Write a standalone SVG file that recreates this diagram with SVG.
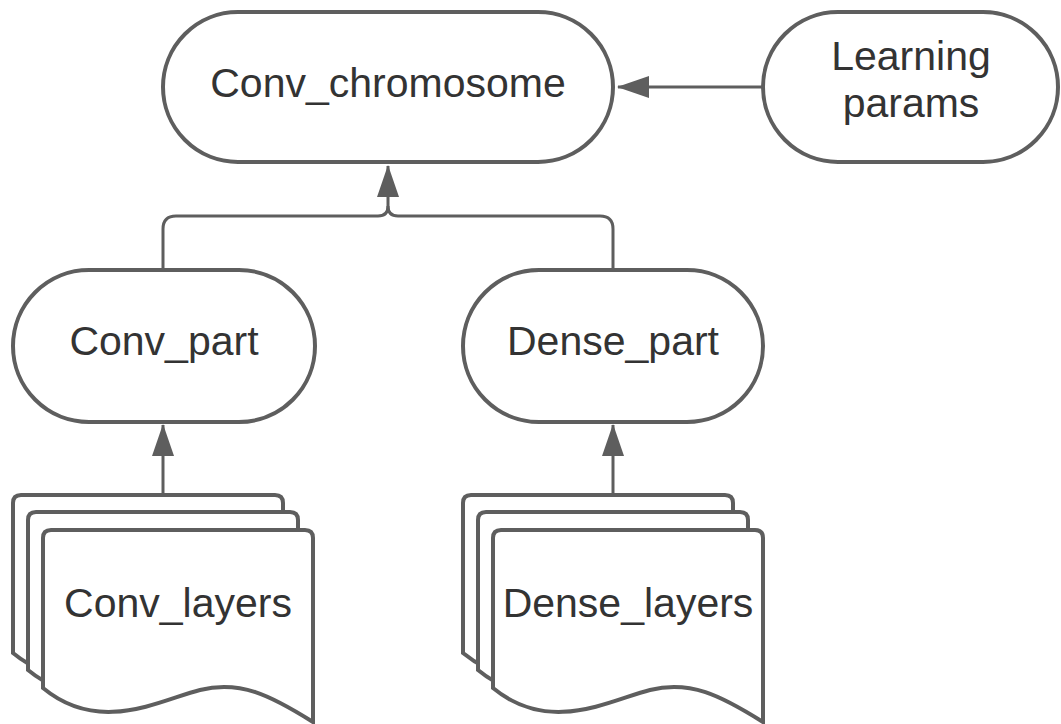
<svg xmlns="http://www.w3.org/2000/svg" width="1061" height="724" viewBox="0 0 1061 724">
  <style>
    .shape { fill: #ffffff; stroke: #5e5e5e; stroke-width: 4; }
    .label { font-family: "Liberation Sans", Arial, sans-serif; font-size: 41px; fill: #333333; text-anchor: middle; }
    .wire { fill: none; stroke: #5e5e5e; stroke-width: 3; }
  </style>
  <defs>
    <marker id="arrow" viewBox="0 0 32 22" refX="31" refY="11" markerWidth="32" markerHeight="22" markerUnits="userSpaceOnUse" orient="auto">
      <path d="M0,0 L32,11 L0,22 Z" fill="#5e5e5e"/>
    </marker>
    <!-- document sheet with a wavy lower edge, top-left corner at the origin -->
    <path id="sheet" d="M0,150 L0,8 Q0,0 8,0 L262,0 Q270,0 270,8 L270,192 C227,165 197,150 157,160 C117,170 57,205 0,158 Z"/>
  </defs>

  <!-- connectors -->
  <g id="connectors">
    <path class="wire" d="M763,87 L618,87" marker-end="url(#arrow)"/>
    <path class="wire" d="M163,270 L163,229 Q163,216 176,216 L378,216 Q388,216 388,206 L388,166" marker-end="url(#arrow)"/>
    <path class="wire" d="M613,270 L613,229 Q613,216 600,216 L398,216 Q388,216 388,206"/>
    <path class="wire" d="M163,495 L163,425" marker-end="url(#arrow)"/>
    <path class="wire" d="M613,495 L613,425" marker-end="url(#arrow)"/>
  </g>

  <g id="conv_chromosome">
    <rect class="shape" x="163" y="12" width="450" height="150" rx="75" ry="75"/>
    <text class="label" x="388" y="97">Conv_chromosome</text>
  </g>

  <g id="learning_params">
    <rect class="shape" x="763" y="12" width="295" height="150" rx="75" ry="75"/>
    <text class="label" x="911" y="70">Learning</text>
    <text class="label" x="911" y="117">params</text>
  </g>

  <g id="conv_part">
    <rect class="shape" x="13" y="270" width="302" height="152" rx="76" ry="76"/>
    <text class="label" x="164" y="355">Conv_part</text>
  </g>

  <g id="dense_part">
    <rect class="shape" x="463" y="270" width="300" height="152" rx="76" ry="76"/>
    <text class="label" x="613" y="355">Dense_part</text>
  </g>

  <g id="conv_layers">
    <use href="#sheet" class="shape" x="13" y="495"/>
    <use href="#sheet" class="shape" x="28" y="512"/>
    <use href="#sheet" class="shape" x="43" y="530"/>
    <text class="label" x="178" y="617">Conv_layers</text>
  </g>

  <g id="dense_layers">
    <use href="#sheet" class="shape" x="463" y="495"/>
    <use href="#sheet" class="shape" x="478" y="512"/>
    <use href="#sheet" class="shape" x="493" y="530"/>
    <text class="label" x="628" y="617">Dense_layers</text>
  </g>
</svg>
